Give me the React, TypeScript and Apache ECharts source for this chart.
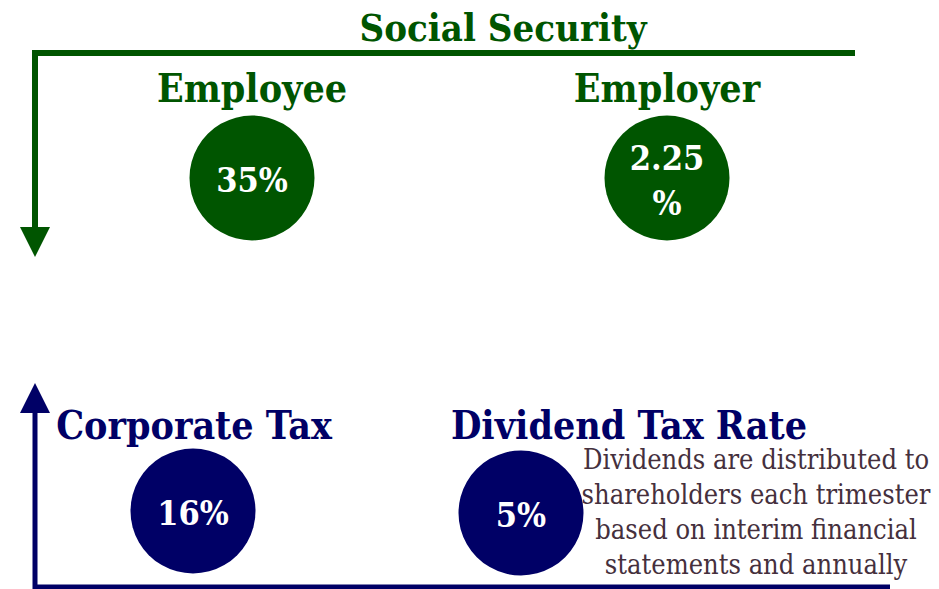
import React, { useEffect, useRef } from "react";
import * as echarts from "echarts";

const GREEN = "#005500";
const NAVY = "#000066";
const DESC_COLOR = "#45303d";
const FONT = "'DejaVu Serif Condensed', 'DejaVu Serif', serif";

const sectionTitles = ["Social Security"];
const groupLabels = ["Employee", "Employer", "Corporate Tax", "Dividend Tax Rate"];
const groupValues = ["35%", "2.25\n%", "16%", "5%"];
const groupColors = [GREEN, GREEN, NAVY, NAVY];
const descriptionLines = [
  "Dividends are distributed to",
  "shareholders each trimester",
  "based on interim financial",
  "statements and annually",
];

// layout (positions only)
const labelPos = [
  [252, 88],
  [667, 88],
  [194, 425],
  [629, 425],
];
const circlePos = [
  [252, 178],
  [667, 178],
  [193, 511],
  [521, 513],
];

export default function App() {
  const ref = useRef<HTMLDivElement>(null);
  useEffect(() => {
    if (!ref.current) return;
    const chart = echarts.init(ref.current, null, { renderer: "svg" });
    const elements: any[] = [];

    // green bracket
    elements.push({
      type: "polyline",
      shape: { points: [[855, 53], [35, 53], [35, 230]] },
      style: { stroke: GREEN, lineWidth: 6, fill: null, lineJoin: "miter" },
    });
    elements.push({
      type: "polygon",
      shape: { points: [[20, 227], [50, 227], [35, 257]] },
      style: { fill: GREEN },
    });
    // navy bracket
    elements.push({
      type: "polyline",
      shape: { points: [[35, 410], [35, 587], [890, 587]] },
      style: { stroke: NAVY, lineWidth: 5, fill: null, lineJoin: "miter" },
    });
    elements.push({
      type: "polygon",
      shape: { points: [[20, 413], [50, 413], [35, 383]] },
      style: { fill: NAVY },
    });

    elements.push({
      type: "text",
      x: 503,
      y: 27,
      style: {
        text: sectionTitles[0],
        fill: GREEN,
        font: `bold 38px ${FONT}`,
        textAlign: "center",
        textVerticalAlign: "middle",
      },
    });

    groupLabels.forEach((lab, i) => {
      elements.push({
        type: "text",
        x: labelPos[i][0],
        y: labelPos[i][1],
        style: {
          text: lab,
          fill: groupColors[i],
          font: `bold 39px ${FONT}`,
          textAlign: "center",
          textVerticalAlign: "middle",
        },
      });
      elements.push({
        type: "circle",
        shape: { cx: circlePos[i][0], cy: circlePos[i][1], r: 62.5 },
        style: { fill: groupColors[i] },
      });
      elements.push({
        type: "text",
        x: circlePos[i][0],
        y: circlePos[i][1] + 2,
        style: {
          text: groupValues[i],
          fill: "#ffffff",
          font: `bold 34px ${FONT}`,
          lineHeight: 45,
          textAlign: "center",
          textVerticalAlign: "middle",
        },
      });
    });

    descriptionLines.forEach((line, i) => {
      elements.push({
        type: "text",
        x: 756,
        y: 459 + i * 35.3,
        style: {
          text: line,
          fill: DESC_COLOR,
          font: `27px ${FONT}`,
          textAlign: "center",
          textVerticalAlign: "middle",
        },
      });
    });

    chart.setOption({
      animation: false,
      backgroundColor: "#ffffff",
      graphic: { elements },
    });
    return () => chart.dispose();
  }, []);
  return (
    <div
      ref={ref}
      style={{ position: "fixed", left: 0, top: 0, width: 939, height: 589 }}
    />
  );
}
